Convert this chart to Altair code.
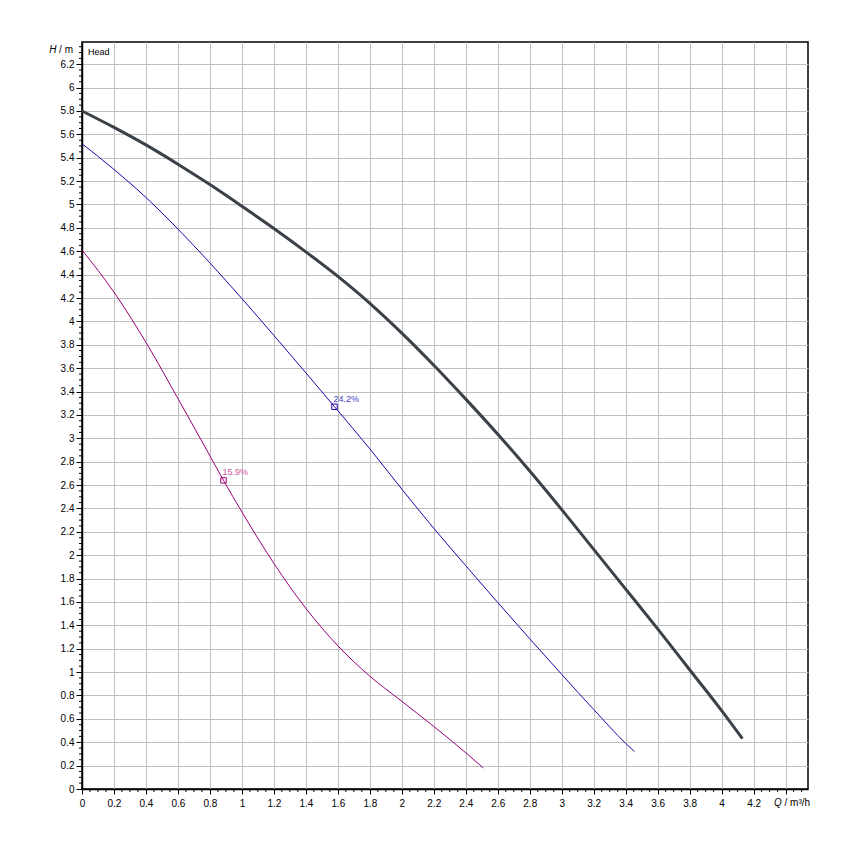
import altair as alt
import pandas as pd

# ---- data ----
max_q = [0, 0.2, 0.4, 0.6, 0.8, 1.0, 1.2, 1.4, 1.6, 1.8, 2.0, 2.2, 2.4, 2.6, 2.8, 3.0, 3.2, 3.4, 3.6, 3.8, 4.0, 4.13]
max_h = [5.80, 5.66, 5.51, 5.345, 5.17, 4.985, 4.795, 4.595, 4.385, 4.155, 3.90, 3.625, 3.335, 3.035, 2.72, 2.39, 2.05, 1.71, 1.37, 1.02, 0.67, 0.43]

mid_q = [0, 0.2, 0.4, 0.6, 0.8, 1.0, 1.2, 1.4, 1.579, 1.8, 2.0, 2.2, 2.4, 2.6, 2.8, 3.0, 3.2, 3.4, 3.455]
mid_h = [5.52, 5.30, 5.06, 4.79, 4.50, 4.195, 3.88, 3.56, 3.27, 2.91, 2.565, 2.23, 1.91, 1.595, 1.285, 0.98, 0.68, 0.39, 0.32]

min_q = [0, 0.2, 0.4, 0.6, 0.8, 0.885, 1.0, 1.2, 1.4, 1.6, 1.8, 2.0, 2.2, 2.4, 2.51]
min_h = [4.61, 4.25, 3.82, 3.34, 2.85, 2.64, 2.37, 1.93, 1.545, 1.225, 0.965, 0.75, 0.535, 0.31, 0.18]

marker_q = [1.579, 0.885]
marker_h = [3.27, 2.64]
marker_label = ["24.2%", "15.9%"]
marker_line_color = ["#2a00aa", "#990077"]
marker_text_color = ["#4a3cc0", "#d05a98"]

x_major = [round(i * 0.2, 1) for i in range(23)]   # 0 .. 4.4
y_major = [round(i * 0.2, 1) for i in range(32)]   # 0 .. 6.2
x_minor = [round(i * 0.05, 2) for i in range(91) if i % 4 != 0]
y_minor = [round(i * 0.05, 2) for i in range(128) if i % 4 != 0]

QMAX, HMAX = 4.54, 6.39
W, H = 726, 747
FONT = "Liberation Sans"

xs = alt.Scale(domain=[0, QMAX], nice=False, zero=False)
ys = alt.Scale(domain=[0, HMAX], nice=False, zero=False)

xaxis = alt.Axis(values=x_major, format="~g",
                 labelExpr="datum.value > 4.3 ? '' : datum.label",
                 grid=True, gridColor="#c0c0c0", gridWidth=1,
                 tickSize=5, tickWidth=1, tickColor="black",
                 domainColor="black", domainWidth=1.5,
                 labelFont=FONT, labelFontSize=10, labelColor="black",
                 labelPadding=4, labelFlush=False, labelOverlap=False, title=None)
yaxis = alt.Axis(values=y_major, format="~g",
                 grid=True, gridColor="#c0c0c0", gridWidth=1,
                 tickSize=6, tickWidth=1, tickColor="black",
                 domainColor="black", domainWidth=1.5,
                 labelFont=FONT, labelFontSize=10, labelColor="black",
                 labelPadding=2, labelFlush=False, labelOverlap=False, title=None)


def X(field):
    return alt.X(field, type="quantitative", scale=xs, axis=xaxis)


def Y(field):
    return alt.Y(field, type="quantitative", scale=ys, axis=yaxis)


def curve(q, h, color, width):
    df = pd.DataFrame({"Q": q, "H": h})
    return alt.Chart(df).mark_line(color=color, strokeWidth=width,
                                   interpolate="monotone").encode(
        x=X("Q"), y=Y("H"), order="Q:Q")


black = curve(max_q, max_h, "#3a4148", 3)
blue = curve(mid_q, mid_h, "#2a00aa", 1)
magenta = curve(min_q, min_h, "#990077", 1)

mk = pd.DataFrame({"Q": marker_q, "H": marker_h, "label": marker_label,
                   "lc": marker_line_color, "tc": marker_text_color})
markers = alt.Chart(mk).mark_point(shape="square", size=30, filled=False,
                                   strokeWidth=1, opacity=1).encode(
    x=X("Q"), y=Y("H"), stroke=alt.Stroke("lc:N", scale=None))
labels = alt.Chart(mk).mark_text(align="left", baseline="middle", dx=-1, dy=-8,
                                 font=FONT, fontSize=9).encode(
    x=X("Q"), y=Y("H"), text="label:N", color=alt.Color("tc:N", scale=None))

xminor = alt.Chart(pd.DataFrame({"v": x_minor})).mark_rule(
    color="black", strokeWidth=1).encode(
    x=X("v"), y=alt.value(H), y2=alt.value(H + 3))
yminor = alt.Chart(pd.DataFrame({"v": y_minor})).mark_rule(
    color="black", strokeWidth=1).encode(
    y=Y("v"), x=alt.value(-3), x2=alt.value(0))

one = pd.DataFrame({"a": [0]})
head = alt.Chart(one).mark_text(text="Head", align="left", baseline="middle",
                                font=FONT, fontSize=9, color="black").encode(
    x=alt.value(6), y=alt.value(10))
h_unit = alt.Chart(one).mark_text(text="/ m", align="right", baseline="middle",
                                  font=FONT, fontSize=10, color="black").encode(
    x=alt.value(-9), y=alt.value(8))
h_sym = alt.Chart(one).mark_text(text="H", align="right", baseline="middle",
                                 font=FONT, fontSize=10, fontStyle="italic",
                                 color="black").encode(
    x=alt.value(-25.5), y=alt.value(8))
q_sym = alt.Chart(one).mark_text(text="Q", align="left", baseline="middle",
                                 font=FONT, fontSize=10, fontStyle="italic",
                                 color="black").encode(
    x=alt.value(692), y=alt.value(H + 14))
q_unit = alt.Chart(one).mark_text(text="/ m³/h", align="left", baseline="middle",
                                  font=FONT, fontSize=10, color="black").encode(
    x=alt.value(702.5), y=alt.value(H + 14))

chart = alt.layer(
    xminor, yminor, magenta, blue, black, markers, labels,
    head, h_unit, h_sym, q_sym, q_unit
).properties(
    width=W, height=H,
    padding={"left": 74, "top": 34, "right": 20, "bottom": 30},
    autosize="none",
).configure_view(stroke="black", strokeWidth=1.5)

chart.save("out.html", embed_options={"renderer": "svg", "actions": False})
